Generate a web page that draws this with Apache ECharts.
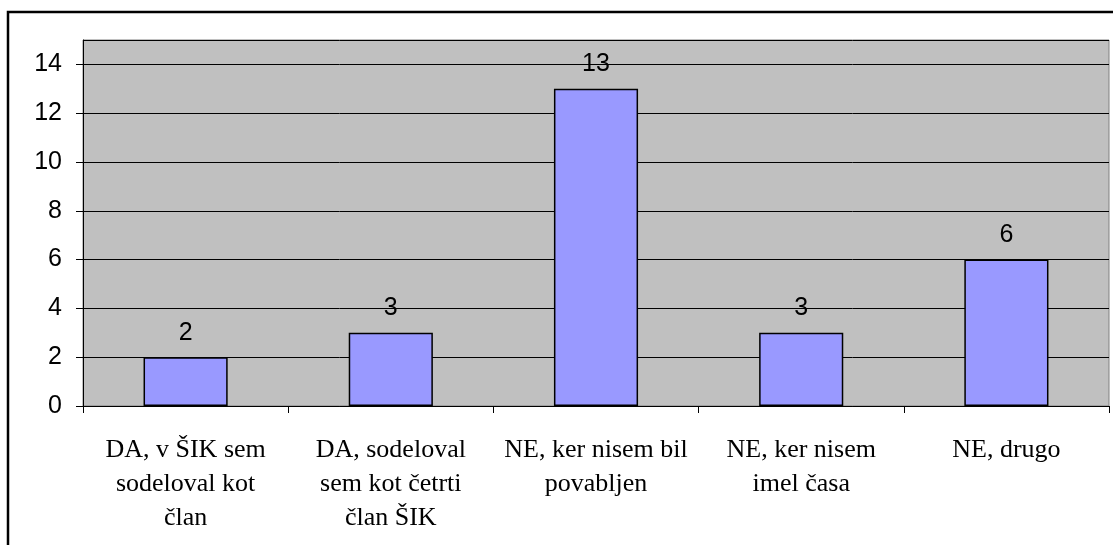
<!DOCTYPE html>
<html>
<head>
<meta charset="utf-8">
<script src="https://cdn.jsdelivr.net/npm/echarts@6/dist/echarts.min.js"></script>
<style>
  html, body { margin: 0; padding: 0; background: #fff; }
  #chart { width: 1113px; height: 545px; }
</style>
</head>
<body>
<div id="chart"></div>
<script>
var categories = [
    'DA, v ŠIK sem\nsodeloval kot\nčlan',
    'DA, sodeloval\nsem kot četrti\nčlan ŠIK',
    'NE, ker nisem bil\npovabljen',
    'NE, ker nisem\nimel časa',
    'NE, drugo'
]
var values = [2, 3, 13, 3, 6]
var yTicks = { min: 0, max: 15, interval: 2 }

var chart = echarts.init(document.getElementById('chart'))

var option = {
    animation: false,
    backgroundColor: '#fff',
    graphic: [
        {
            type: 'rect',
            shape: { x: 8, y: 12, width: 1130, height: 560 },
            style: { fill: 'none', stroke: '#000', lineWidth: 2.5 },
            z: 100
        }
    ],
    grid: {
        left: 83,
        top: 40,
        right: 4,
        bottom: 139,
        show: true,
        backgroundColor: '#c0c0c0',
        borderColor: '#808080',
        borderWidth: 1
    },
    xAxis: {
        type: 'category',
        data: categories,
        axisLine: { lineStyle: { color: '#000', width: 1 } },
        axisTick: { show: true, length: 7, alignWithLabel: false, lineStyle: { color: '#000' } },
        axisLabel: {
            margin: 27,
            interval: 0,
            fontFamily: 'Liberation Serif',
            fontSize: 26,
            lineHeight: 34,
            color: '#000'
        }
    },
    yAxis: {
        type: 'value',
        min: yTicks.min,
        max: yTicks.max,
        interval: yTicks.interval,
        axisLine: { show: true, lineStyle: { color: '#000', width: 1 } },
        axisTick: { show: true, length: 7, lineStyle: { color: '#000' } },
        splitLine: { lineStyle: { color: '#000', width: 1 } },
        axisLabel: {
            margin: 21,
            fontFamily: 'Liberation Sans',
            fontSize: 25,
            color: '#000',
            showMaxLabel: false
        }
    },
    series: [
        {
            type: 'bar',
            data: values,
            barWidth: '41%',
            itemStyle: { color: '#9999ff', borderColor: '#000', borderWidth: 1.5 },
            label: {
                show: true,
                position: 'top',
                distance: 12,
                fontFamily: 'Liberation Sans',
                fontSize: 25,
                color: '#000'
            }
        }
    ]
}

chart.setOption(option)
</script>
</body>
</html>
